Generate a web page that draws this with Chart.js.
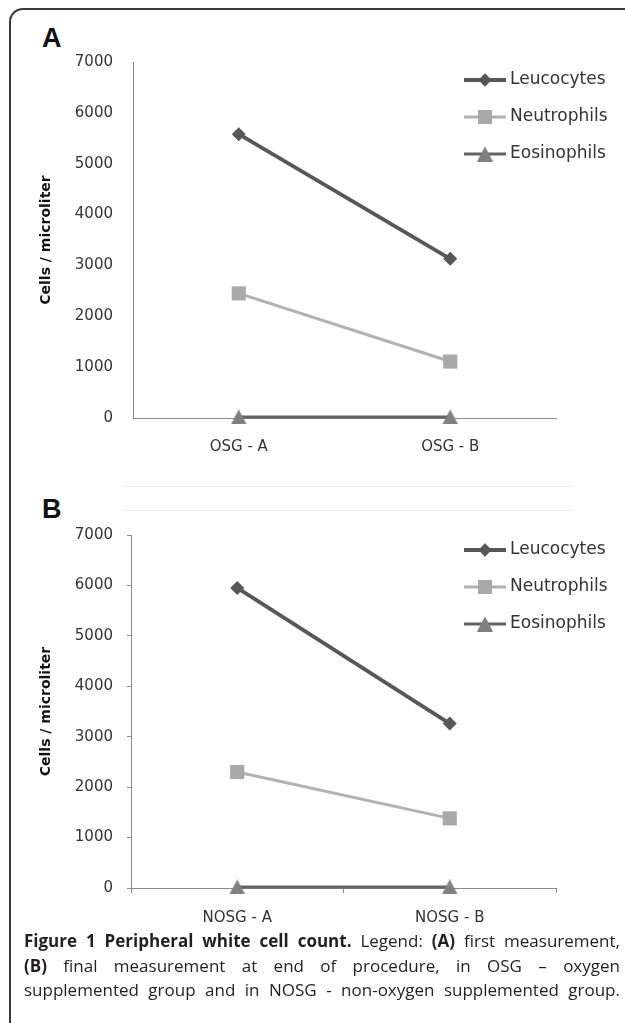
<!DOCTYPE html>
<html>
<head>
<meta charset="utf-8">
<script src="https://cdn.jsdelivr.net/npm/chart.js@4/dist/chart.umd.min.js"></script>
<style>
  html, body { margin: 0; padding: 0; background: #fff; width: 625px; height: 1023px; overflow: hidden; }
  #frame { position: absolute; left: 9px; top: 8px; width: 700px; height: 1100px;
           border-left: 2px solid #3a3a3a; border-top: 2px solid #3a3a3a; border-top-left-radius: 14px; }
  .panelLetter { position: absolute; left: 42px; font: bold 27px "Liberation Sans", Arial, sans-serif; color: #111; }
  .sep { position: absolute; left: 122px; width: 452px; height: 1px; background: #eeeeee; }
  canvas { position: absolute; left: 0; }
  #caption { position: absolute; left: 24px; top: 929px; width: 596px;
             font: 17px "Open Sans", sans-serif; color: #231f20; line-height: 24.5px; }
  #caption div { text-align: justify; text-align-last: justify; white-space: nowrap; }
  #caption b { font-weight: bold; }
</style>
</head>
<body>
<div id="frame"></div>
<div class="panelLetter" style="top:23px">A</div>
<div class="panelLetter" style="top:494px">B</div>
<div class="sep" style="top:486px"></div>
<div class="sep" style="top:510px"></div>
<canvas id="chartA" width="625" height="470" style="top:0px"></canvas>
<canvas id="chartB" width="625" height="470" style="top:470px"></canvas>
<div id="caption">
  <div><b>Figure 1 Peripheral white cell count.</b> Legend: <b>(A)</b> first measurement,</div>
  <div><b>(B)</b> final measurement at end of procedure, in OSG – oxygen</div>
  <div>supplemented group and in NOSG - non-oxygen supplemented group.</div>
</div>
<script>
// ---- data ----
const seriesNames = ['Leucocytes', 'Neutrophils', 'Eosinophils'];
const categoriesA = ['OSG - A', 'OSG - B'];
const categoriesB = ['NOSG - A', 'NOSG - B'];
const leucocytesA = [5580, 3130];
const neutrophilsA = [2450, 1110];
const eosinophilsA = [20, 20];
const leucocytesB = [5950, 3260];
const neutrophilsB = [2300, 1380];
const eosinophilsB = [20, 20];
const yTicks = [0, 1000, 2000, 3000, 4000, 5000, 6000, 7000];

// triangle marker as a small image so it sits centred on the point (like Excel)
const triMarker = document.createElement('canvas');
triMarker.width = 16; triMarker.height = 15;
(function () {
    const c = triMarker.getContext('2d');
    c.fillStyle = '#808080';
    c.beginPath(); c.moveTo(8, 0); c.lineTo(16, 15); c.lineTo(0, 15); c.closePath(); c.fill();
})();

// look of each series
const seriesStyle = [
    { line: '#575757', fill: '#575757', shape: 'rectRot', radius: 7, width: 3.8 },
    { line: '#b2b2b2', fill: '#a9a9a9', shape: 'rect', radius: 10, width: 3 },
    { line: '#626262', fill: '#808080', shape: triMarker, radius: 8, width: 3 }
];

const tickFont = { family: 'DejaVu Sans', size: 15 };

function makeDatasets(values) {
    return values.map((vals, i) => ({
        label: seriesNames[i],
        data: vals,
        borderColor: seriesStyle[i].line,
        backgroundColor: seriesStyle[i].fill,
        pointBackgroundColor: seriesStyle[i].fill,
        pointBorderColor: seriesStyle[i].fill,
        pointBorderWidth: 0,
        pointStyle: seriesStyle[i].shape,
        pointRadius: seriesStyle[i].radius,
        borderWidth: seriesStyle[i].width,
        tension: 0,
        clip: false
    }));
}

// marker drawing for the legend
function drawMarker(ctx, shape, r, x, y) {
    if (shape === triMarker) {
        ctx.drawImage(triMarker, x - 8, y - 7.5);
        return;
    }
    ctx.beginPath();
    if (shape === 'rect') {
        const s = r * Math.SQRT1_2;
        ctx.rect(x - s, y - s, s * 2, s * 2);
    } else {
        ctx.moveTo(x, y - r); ctx.lineTo(x + r, y); ctx.lineTo(x, y + r); ctx.lineTo(x - r, y);
    }
    ctx.closePath();
    ctx.fill();
}

// legend sits inside the plot area, top right
const insideLegend = {
    id: 'insideLegend',
    afterDraw(chart) {
        const ctx = chart.ctx;
        ctx.save();
        chart.data.datasets.forEach((ds, i) => {
            const y = 80 + i * 37;
            const x = 464;
            ctx.strokeStyle = ds.borderColor;
            ctx.lineWidth = ds.borderWidth;
            ctx.beginPath(); ctx.moveTo(x, y); ctx.lineTo(x + 42, y); ctx.stroke();
            ctx.fillStyle = ds.pointBackgroundColor;
            drawMarker(ctx, ds.pointStyle, ds.pointRadius * (ds.pointStyle === 'rect' ? 1 : 0.95), x + 21, y);
            ctx.fillStyle = '#333';
            ctx.font = '17px "DejaVu Sans"';
            ctx.textBaseline = 'middle';
            ctx.fillText(ds.label, x + 46, y);
        });
        ctx.restore();
    }
};

function buildChart(canvasId, labels, values, withTicks, topPad, yWidth) {
    return new Chart(document.getElementById(canvasId), {
        type: 'line',
        data: { labels: labels, datasets: makeDatasets(values) },
        options: {
            responsive: false,
            animation: false,
            layout: { padding: { top: topPad, right: 69, left: 0, bottom: 0 } },
            plugins: { legend: { display: false }, tooltip: { enabled: false } },
            scales: {
                x: {
                    offset: true,
                    afterFit: (s) => { s.height = 52; },
                    border: { color: '#8a8a8a', width: 1 },
                    grid: withTicks
                        ? { display: true, drawOnChartArea: false, drawTicks: true, tickLength: 5, color: '#8a8a8a', offset: true }
                        : { display: false, drawTicks: false },
                    ticks: { color: '#333', font: tickFont, padding: withTicks ? 16 : 20 }
                },
                y: {
                    min: 0, max: 7000,
                    afterFit: (s) => { s.width = yWidth; },
                    afterBuildTicks: (s) => { s.ticks = yTicks.map(v => ({ value: v })); },
                    border: { color: '#8a8a8a', width: 1 },
                    grid: withTicks
                        ? { display: true, drawOnChartArea: false, drawTicks: true, tickLength: 4, color: '#8a8a8a' }
                        : { display: false, drawTicks: false },
                    ticks: {
                        color: '#333', font: tickFont, padding: withTicks ? 14 : 20,
                        callback: (v) => String(v)
                    },
                    title: {
                        display: true, text: 'Cells / microliter', color: '#111',
                        font: { family: 'DejaVu Sans', size: 14, weight: 'bold' },
                        padding: { top: 38, bottom: 0 }
                    }
                }
            }
        },
        plugins: [insideLegend]
    });
}

buildChart('chartA', categoriesA, [leucocytesA, neutrophilsA, eosinophilsA], false, 62, 133);
buildChart('chartB', categoriesB, [leucocytesB, neutrophilsB, eosinophilsB], true, 65, 131);
</script>
</body>
</html>
